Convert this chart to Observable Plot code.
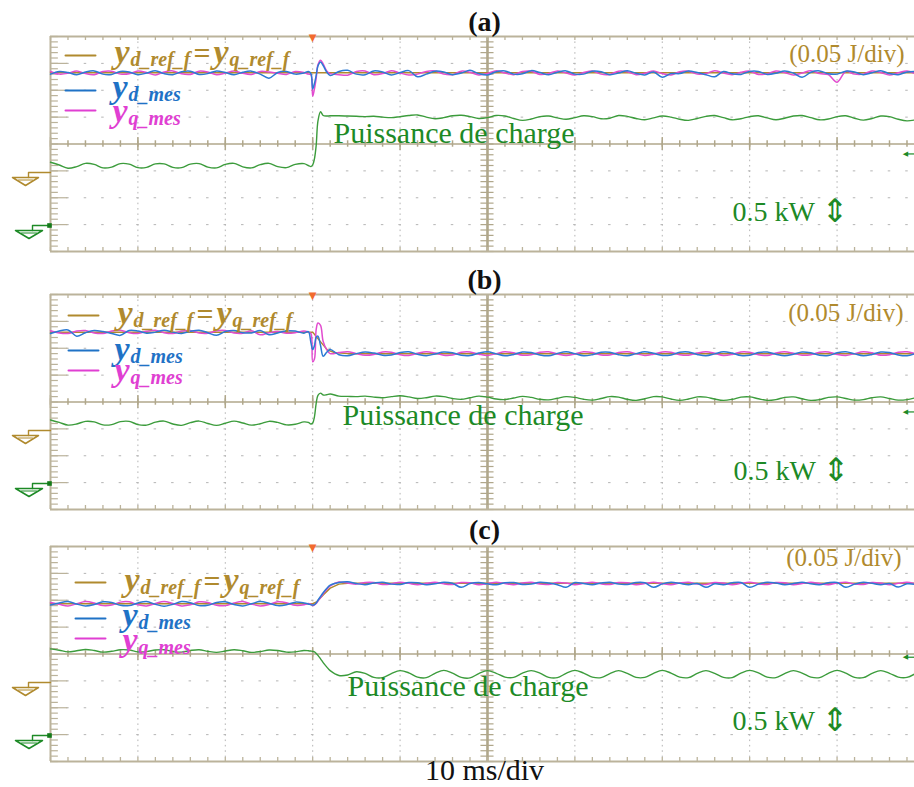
<!DOCTYPE html>
<html><head><meta charset="utf-8">
<script src="https://cdn.jsdelivr.net/npm/d3@7"></script>
<script src="https://cdn.jsdelivr.net/npm/@observablehq/plot@0.6"></script>
<style>
html,body{margin:0;padding:0;background:#fff;}
#chart{position:relative;width:914px;height:787px;overflow:hidden;background:#fff;}
#chart svg{position:absolute;left:0;}
</style></head><body><div id="chart"></div>
<script>
// ---------- DATA (time in ms, values in screen divisions) ----------
const T = [0,1,2,3,4,5,6,7,8,9,10,11,12,13,14,15,16,17,18,19,20,21,22,23,24,25,26,27,28,29,
  29.5,29.8,30,30.2,30.4,30.6,30.9,31.2,31.6,32,
  33,34,35,36,37,38,39,40,41,42,43,44,45,46,47,48,49,50,51,52,53,54,55,56,57,58,59,60,61,62,
  63,64,65,66,67,68,69,70,71,72,73,74,75,76,77,78,79,80,81,82,83,84,85,86,87,88,89,90,91,92,
  93,94,95,96,97,98,99];

const panelTitles = ["(a)", "(b)", "(c)"];
const legendRef = ["y", "d_ref_f", "=", "y", "q_ref_f"];
const legendD = ["y", "d_mes"];
const legendQ = ["y", "q_mes"];
const powerLabel = "Puissance de charge";
const energyScale = "(0.05 J/div)";
const powerScale = "0.5 kW";
const timeScale = "10 ms/div";

// panel (a)
const refTA = [0, 99];
const refA = [2.65, 2.65];
const blueA = [
  2.60,2.70,2.66,2.58,2.68,2.72,2.60,2.59,2.70,2.68,
  2.58,2.64,2.73,2.62,2.58,2.69,2.71,2.59,2.62,2.72,
  2.66,2.58,2.67,2.71,2.60,2.45,2.66,2.70,2.60,2.64,
  2.70,2.62,2.05,2.25,2.55,2.90,3.05,2.92,2.68,2.55,
  2.70,2.74,2.60,2.58,2.72,2.68,2.57,2.66,2.73,2.50,
  2.60,2.71,2.68,2.58,2.64,2.74,2.62,2.57,2.69,2.72,
  2.60,2.61,2.73,2.66,2.58,2.67,2.72,2.60,2.60,2.71,
  2.69,2.58,2.64,2.73,2.63,2.57,2.68,2.48,2.62,2.62,
  2.72,2.66,2.58,2.50,2.70,2.61,2.59,2.70,2.70,2.59,
  2.63,2.72,2.64,2.48,2.67,2.72,2.61,2.60,2.71,2.68,
  2.58,2.65,2.73,2.62,2.58,2.68,2.70];
const magA = [
  2.70,2.60,2.63,2.72,2.62,2.58,2.70,2.71,2.60,2.61,
  2.72,2.66,2.57,2.68,2.72,2.61,2.59,2.71,2.68,2.58,
  2.64,2.72,2.63,2.59,2.70,2.68,2.63,2.59,2.70,2.66,
  2.60,2.58,1.78,2.05,2.45,2.95,3.12,2.98,2.72,2.62,
  2.58,2.56,2.70,2.72,2.58,2.62,2.73,2.64,2.57,2.60,
  2.70,2.72,2.60,2.58,2.71,2.67,2.57,2.62,2.73,2.64,
  2.58,2.70,2.71,2.59,2.62,2.72,2.64,2.57,2.66,2.72,
  2.60,2.59,2.71,2.69,2.58,2.63,2.72,2.62,2.57,2.69,
  2.71,2.60,2.62,2.73,2.64,2.58,2.67,2.71,2.59,2.61,
  2.72,2.66,2.57,2.64,2.73,2.62,2.58,2.30,2.70,2.60,
  2.60,2.72,2.66,2.57,2.65,2.72,2.61];
const powA = [
  -0.68,-0.78,-0.90,-0.84,-0.72,-0.76,-0.89,-0.86,-0.73,-0.75,
  -0.88,-0.87,-0.74,-0.74,-0.87,-0.88,-0.75,-0.73,-0.86,-0.89,
  -0.76,-0.72,-0.85,-0.89,-0.77,-0.72,-0.84,-0.88,-0.76,-0.73,
  -0.80,-0.84,-0.78,-0.55,-0.05,0.85,1.20,1.06,1.04,1.05,
  1.05,1.04,1.03,1.02,1.03,1.00,0.98,1.02,1.06,1.08,
  1.00,0.94,0.98,1.05,1.07,1.02,0.95,0.98,1.06,1.04,
  0.95,0.88,0.93,1.02,1.04,0.97,0.92,0.98,1.05,1.02,
  0.94,0.96,1.06,1.03,0.95,0.90,0.97,1.04,1.00,0.92,
  0.88,0.95,1.03,1.06,0.98,0.90,0.94,1.02,1.05,0.97,
  0.90,0.96,1.04,1.06,0.98,0.90,0.93,1.02,1.05,0.96,
  0.89,0.95,1.04,1.02,0.92,0.86,0.90];

// panel (b)
const refTB = [0, 30, 30.3, 31, 31.7, 32.5, 34, 99];
const refB = [2.60, 2.60, 2.48, 2.20, 1.93, 1.84, 1.80, 1.80];
const blueB = [
  2.55,2.64,2.68,2.45,2.58,2.66,2.62,2.55,2.48,2.66,
  2.64,2.56,2.60,2.67,2.60,2.55,2.63,2.67,2.58,2.48,
  2.62,2.66,2.58,2.57,2.66,2.50,2.57,2.65,2.64,2.56,
  2.62,2.20,1.95,2.10,2.40,2.45,2.10,1.70,1.85,1.95,
  1.76,1.72,1.80,1.86,1.82,1.74,1.75,1.84,1.87,1.78,
  1.72,1.79,1.86,1.83,1.74,1.73,1.82,1.87,1.79,1.72,
  1.77,1.86,1.84,1.75,1.72,1.81,1.87,1.80,1.72,1.76,
  1.85,1.85,1.76,1.72,1.80,1.87,1.81,1.73,1.75,1.85,
  1.86,1.77,1.72,1.79,1.87,1.82,1.73,1.74,1.84,1.86,
  1.78,1.72,1.78,1.86,1.83,1.74,1.73,1.83,1.87,1.79,
  1.72,1.77,1.86,1.84,1.75,1.72,1.81];
const magB = [
  2.65,2.57,2.55,2.64,2.66,2.57,2.55,2.64,2.67,2.58,
  2.55,2.63,2.67,2.58,2.55,2.64,2.66,2.57,2.56,2.65,
  2.66,2.57,2.56,2.65,2.50,2.58,2.62,2.56,2.58,2.64,
  2.60,2.55,1.50,1.60,2.70,2.94,2.85,2.25,1.95,1.80,
  1.84,1.87,1.80,1.74,1.77,1.86,1.85,1.76,1.73,1.81,
  1.87,1.82,1.74,1.75,1.85,1.86,1.78,1.73,1.80,1.87,
  1.83,1.74,1.76,1.85,1.87,1.79,1.73,1.79,1.87,1.84,
  1.75,1.75,1.84,1.87,1.80,1.73,1.78,1.86,1.85,1.76,
  1.74,1.82,1.87,1.81,1.73,1.77,1.86,1.85,1.76,1.73,
  1.82,1.87,1.81,1.74,1.76,1.85,1.86,1.77,1.73,1.80,
  1.87,1.83,1.74,1.76,1.85,1.87,1.79];
const powB = [
  -0.67,-0.76,-0.86,-0.82,-0.72,-0.74,-0.85,-0.84,-0.73,-0.72,
  -0.84,-0.86,-0.75,-0.71,-0.82,-0.87,-0.77,-0.71,-0.80,-0.87,
  -0.79,-0.71,-0.78,-0.86,-0.81,-0.72,-0.76,-0.85,-0.83,-0.74,
  -0.76,-0.82,-0.78,-0.55,-0.05,0.25,0.33,0.26,0.27,0.30,
  0.22,0.21,0.20,0.22,0.18,0.16,0.20,0.23,0.19,0.13,
  0.16,0.22,0.20,0.13,0.10,0.16,0.22,0.18,0.11,0.09,
  0.15,0.21,0.17,0.10,0.08,0.14,0.20,0.17,0.10,0.07,
  0.13,0.20,0.18,0.10,0.06,0.12,0.20,0.19,0.11,0.06,
  0.11,0.19,0.18,0.11,0.06,0.10,0.18,0.19,0.12,0.06,
  0.09,0.17,0.19,0.12,0.06,0.09,0.17,0.19,0.13,0.07,
  0.09,0.16,0.19,0.13,0.07,0.09,0.16];

// panel (c)
const refTC = [0, 30, 30.5, 31.2, 32, 33, 34, 99];
const refC = [1.87, 1.87, 1.95, 2.20, 2.45, 2.60, 2.63, 2.63];
const blueC = [
  1.82,1.90,1.95,1.86,1.79,1.84,1.94,1.92,1.81,1.80,
  1.90,1.95,1.85,1.78,1.85,1.95,1.91,1.80,1.81,1.92,
  1.94,1.84,1.79,1.87,1.95,1.89,1.80,1.83,1.93,1.90,
  1.86,1.83,1.82,1.84,1.90,2.00,2.14,2.28,2.44,2.56,
  2.66,2.69,2.62,2.58,2.64,2.67,2.60,2.59,2.66,2.65,
  2.58,2.61,2.67,2.63,2.48,2.62,2.66,2.61,2.58,2.65,
  2.66,2.59,2.60,2.67,2.64,2.58,2.48,2.66,2.62,2.58,
  2.64,2.67,2.60,2.59,2.66,2.65,2.48,2.61,2.67,2.63,
  2.58,2.62,2.48,2.61,2.58,2.65,2.66,2.48,2.60,2.67,
  2.64,2.58,2.62,2.67,2.61,2.58,2.65,2.66,2.48,2.60,
  2.67,2.63,2.58,2.62,2.49,2.61,2.59];
const magC = [
  1.92,1.85,1.79,1.87,1.95,1.90,1.80,1.82,1.93,1.94,
  1.83,1.79,1.88,1.95,1.88,1.79,1.83,1.94,1.92,1.81,
  1.80,1.90,1.95,1.86,1.79,1.84,1.94,1.91,1.81,1.83,
  1.88,1.85,1.80,1.83,1.88,1.97,2.10,2.24,2.40,2.53,
  2.68,2.64,2.60,2.66,2.66,2.59,2.61,2.67,2.63,2.58,
  2.63,2.67,2.61,2.59,2.66,2.65,2.58,2.62,2.67,2.62,
  2.58,2.64,2.67,2.60,2.59,2.66,2.64,2.58,2.63,2.67,
  2.61,2.59,2.66,2.65,2.58,2.62,2.67,2.62,2.58,2.64,
  2.67,2.60,2.59,2.66,2.64,2.58,2.63,2.67,2.61,2.59,
  2.66,2.65,2.58,2.62,2.67,2.62,2.58,2.64,2.67,2.60,
  2.59,2.66,2.64,2.58,2.63,2.67,2.61];
const powC = [
  0.19,0.14,0.08,0.12,0.17,0.13,0.07,0.10,0.16,0.15,
  0.08,0.09,0.15,0.16,0.09,0.07,0.13,0.16,0.10,0.06,
  0.11,0.16,0.12,0.06,0.09,0.15,0.13,0.07,0.08,0.13,
  0.12,0.11,0.10,0.08,0.02,-0.05,-0.18,-0.32,-0.48,-0.62,
  -0.80,-0.78,-0.66,-0.72,-0.87,-0.88,-0.73,-0.62,-0.70,-0.86,
  -0.88,-0.72,-0.61,-0.71,-0.87,-0.89,-0.73,-0.62,-0.72,-0.86,
  -0.87,-0.71,-0.62,-0.71,-0.87,-0.88,-0.72,-0.61,-0.71,-0.86,
  -0.88,-0.73,-0.62,-0.72,-0.87,-0.87,-0.72,-0.61,-0.71,-0.86,
  -0.88,-0.72,-0.62,-0.72,-0.87,-0.88,-0.71,-0.61,-0.70,-0.86,
  -0.88,-0.73,-0.62,-0.71,-0.86,-0.88,-0.72,-0.61,-0.71,-0.87,
  -0.88,-0.72,-0.62,-0.72,-0.86,-0.87,-0.72];

// ---------- LAYOUT / STYLE ----------
const W = 914, ML = 50, FT = 36, FH = 215, XMAX = 98.86;
const pxPerMs = (W - ML) / XMAX, pxPerDiv = FH / 8;
const X = px => (px - ML) / pxPerMs;
const Y = py => 4 - (py - FT) / pxPerDiv;
const SERIF = "'Liberation Serif','Times New Roman',serif";
const GOLD = "#b08a2e", BLUE_T = "#1f72c6", MAG_T = "#e03fd2", GREEN_T = "#1d8a26";
const BLUE = "#2c7ad4", MAG = "#e24ccf", GREEN = "#3c9c3c";
const FRAME = "#bbb39b", AXIS = "#b0a78b", GRID = "#b4b4b4";

const xMinor = d3.range(0, 99, 2);
const xMajor = [10, 20, 30, 40, 60, 70, 80, 90];
const xMajorAll = [0, 10, 20, 30, 40, 50, 60, 70, 80, 90];
const yMinor = d3.range(-20, 21).map(k => k / 5);
const yMajor = [-3, -2, -1, 1, 2, 3];

function txt(px, py, t, o = {}) {
  return Plot.text([{x: X(px), y: Y(py), t}], {x: "x", y: "y", text: "t",
    lineAnchor: "bottom", textAnchor: "start", fontFamily: SERIF, ...o});
}
function seg(pts, color, w = 1.4) {
  return Plot.line(pts.map(([px, py]) => ({x: X(px), y: Y(py)})), {x: "x", y: "y", stroke: color, strokeWidth: w});
}
function ground(py, color, stemPx, triL, triR, apexH, square) {
  const m = [
    seg([[50, py], [stemPx, py], [stemPx, py + 5]], color),
    seg([[triL, py + 5], [triR, py + 5], [(triL + triR) / 2, py + 5 + apexH], [triL, py + 5]], color, 1.5),
    seg([[triL + 6, py + 7.5], [triR - 6, py + 7.5]], color, 1)
  ];
  if (square) m.push(Plot.dot([{x: X(49), y: Y(py)}], {x: "x", y: "y", symbol: "square", r: 2.6, fill: "#137a1a"}));
  return m;
}
function legendRow(x0, swY, baseY, parts, color, swL, swR) {
  const m = [seg([[swL, swY], [swR, swY]], color, 2)];
  const big = {fill: color, fontSize: 34, fontWeight: "bold", fontStyle: "italic"};
  const sub = {fill: color, fontSize: 20, fontWeight: "bold", fontStyle: "italic"};
  m.push(txt(x0, baseY, parts[0], big));
  m.push(txt(x0 + 16, baseY + 3, parts[1], sub));
  if (parts.length > 2) {
    m.push(txt(x0 + 79, baseY, parts[2], {fill: color, fontSize: 30, fontWeight: "bold"}));
    m.push(txt(x0 + 99, baseY, parts[3], big));
    m.push(txt(x0 + 115, baseY + 3, parts[4], sub));
  }
  return m;
}

function panel(cfg) {
  const mb = cfg.height - FT - FH;
  const L = cfg.layout;
  const marks = [
    // dotted grid
    Plot.ruleY(yMajor, {stroke: GRID, strokeWidth: 1, strokeDasharray: `2.5,${(2 * pxPerMs - 2.5).toFixed(3)}`, strokeDashoffset: 1.25}),
    Plot.ruleX(xMajor, {stroke: GRID, strokeWidth: 1, strokeDasharray: `1.6,${(pxPerDiv / 5 - 1.6).toFixed(3)}`}),
    // centre axes with ticks
    Plot.ruleY([0], {stroke: AXIS, strokeWidth: 1.6}),
    Plot.ruleX([50], {stroke: AXIS, strokeWidth: 2.6}),
    Plot.ruleX(xMinor, {y1: -0.12, y2: 0.12, stroke: AXIS, strokeWidth: 1.5}),
    Plot.ruleX(xMajorAll, {y1: -0.24, y2: 0.24, stroke: AXIS, strokeWidth: 1.5}),
    Plot.ruleY(yMinor, {x1: 50 - 0.75, x2: 50 + 0.75, stroke: AXIS, strokeWidth: 1.2}),
    // frame (left, top, bottom) with ticks
    Plot.ruleX([0], {stroke: FRAME, strokeWidth: 2}),
    Plot.ruleY([-4, 4], {stroke: FRAME, strokeWidth: 2}),
    Plot.ruleX(xMinor, {y1: 4, y2: 3.85, stroke: FRAME, strokeWidth: 1.3}),
    Plot.ruleX(xMinor, {y1: -4, y2: -3.85, stroke: FRAME, strokeWidth: 1.3}),
    Plot.ruleY(yMinor, {x1: 0, x2: 0.9, stroke: FRAME, strokeWidth: 1.2}),
    Plot.ruleY(yMajor, {x1: 0, x2: 2.0, stroke: FRAME, strokeWidth: 1.2}),
    // traces
    Plot.line(cfg.refT, {x: cfg.refT, y: cfg.ref, stroke: GOLD, strokeWidth: 1.5}),
    Plot.line(T, {x: T, y: cfg.pow, stroke: GREEN, strokeWidth: 1.4, curve: "catmull-rom"}),
    Plot.line(T, {x: T, y: cfg.mag, stroke: MAG, strokeWidth: 1.5, curve: "catmull-rom"}),
    Plot.line(T, {x: T, y: cfg.blue, stroke: BLUE, strokeWidth: 1.5, curve: "catmull-rom"}),
    // channel markers
    Plot.text([{x: 30, y: 4}], {x: "x", y: "y", text: () => "▼", fill: "#f26a2e", fontSize: 10, lineAnchor: "bottom", dy: 4, fontFamily: "DejaVu Sans"}),
    ...ground(FT + 136, GOLD, 28, 12, 38, 8, false),
    ...ground(FT + 189, "#1d8a26", 32, 15, 42, 8, true),
    Plot.text([{x: X(905), y: cfg.trig}], {x: "x", y: "y", text: () => "◀", fill: GREEN_T, fontSize: 7, fontFamily: "DejaVu Sans"}),
    Plot.ruleY([cfg.trig], {x1: X(907), x2: X(914), stroke: GREEN_T, strokeWidth: 1.2}),
    // texts
    txt(484, L.title, cfg.title, {textAnchor: "middle", fontSize: 28, fontWeight: "bold", fill: "#111"}),
    ...legendRow(L.gx, L.gsw, L.gb, legendRef, GOLD, L.swL, L.swL + 30),
    ...legendRow(L.bx, L.bsw, L.bb, legendD, BLUE_T, L.swL, L.swL + 30),
    ...legendRow(L.bx, L.msw, L.mb, legendQ, MAG_T, L.swL, L.swL + 30),
    txt(L.px, L.pb, powerLabel, {fill: GREEN_T, fontSize: 30}),
    txt(L.jx, L.jb, energyScale, {fill: GOLD, fontSize: 25, textAnchor: "end"}),
    txt(L.kx, L.kb, powerScale, {fill: GREEN_T, fontSize: 28}),
    txt(L.kx + 89, L.kb + 1, "⇕", {fill: GREEN_T, fontSize: 32, fontFamily: "DejaVu Sans"})
  ];
  if (cfg.bottom) marks.push(txt(484, L.bottom, timeScale, {textAnchor: "middle", fontSize: 30, fill: "#111"}));
  const svg = Plot.plot({
    width: W, height: cfg.height,
    marginLeft: ML, marginRight: 0, marginTop: FT, marginBottom: mb,
    x: {domain: [0, XMAX], axis: null},
    y: {domain: [-4, 4], axis: null},
    style: {background: "transparent", overflow: "visible"},
    marks
  });
  svg.style.top = cfg.top + "px";
  return svg;
}

const chart = document.getElementById("chart");
chart.append(panel({
  title: panelTitles[0], top: 0, height: 258,
  refT: refTA, ref: refA, blue: blueA, mag: magA, pow: powA, trig: -0.37,
  layout: {title: 30, swL: 65, gx: 114, gsw: 55, gb: 62, bx: 112, bsw: 90, bb: 97, msw: 110, mb: 121,
    px: 333, pb: 142, jx: 904, jb: 61, kx: 732, kb: 220}
}));
chart.append(panel({
  title: panelTitles[1], top: 258, height: 258,
  refT: refTB, ref: refB, blue: blueB, mag: magB, pow: powB, trig: -0.37,
  layout: {title: 30, swL: 68, gx: 117, gsw: 57, gb: 65, bx: 114, bsw: 92, bb: 101, msw: 112, mb: 122,
    px: 342, pb: 166, jx: 903, jb: 62, kx: 733, kb: 221}
}));
chart.append(panel({
  title: panelTitles[2], top: 510, height: 277, bottom: true,
  refT: refTC, ref: refC, blue: blueC, mag: magC, pow: powC, trig: -0.12,
  layout: {title: 28, swL: 75, gx: 124, gsw: 72, gb: 80, bx: 122, bsw: 108, bb: 115, msw: 128, mb: 140,
    px: 347, pb: 185, jx: 901, jb: 55, kx: 732, kb: 219, bottom: 269}
}));
</script></body></html>
